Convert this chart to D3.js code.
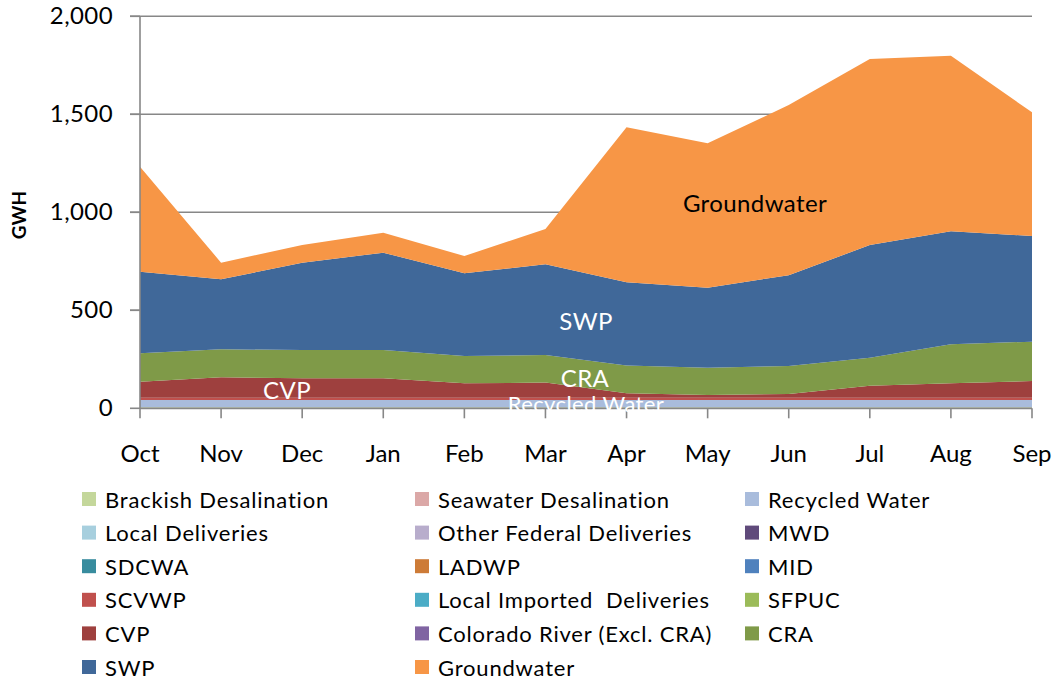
<html>
    <head>
        <script src="https://d3js.org/d3.v7.min.js" charset="utf-8"></script>
        <style>
            body { margin: 0; background: #ffffff; }
            text { font-family: Lato, "Open Sans", sans-serif; }
        </style>
    </head>

    <body>
    </body>

    <script>
        // Months along the x axis
        var months = ["Oct", "Nov", "Dec", "Jan", "Feb", "Mar", "Apr", "May", "Jun", "Jul", "Aug", "Sep"];

        // Tick values for the y axis (GWH)
        var yTicks = [0, 500, 1000, 1500, 2000];

        // Series names, bottom of the stack first (same order as the legend)
        var seriesNames = [
            "Brackish Desalination", "Seawater Desalination", "Recycled Water",
            "Local Deliveries", "Other Federal Deliveries", "MWD",
            "SDCWA", "LADWP", "MID",
            "SCVWP", "Local Imported  Deliveries", "SFPUC",
            "CVP", "Colorado River (Excl. CRA)", "CRA",
            "SWP", "Groundwater"
        ];

        var seriesColors = [
            "#c4d79b", "#dba8a7", "#a9bcdc",
            "#a7cfde", "#b8adcc", "#604a7b",
            "#388c9e", "#cd7b37", "#4f81bd",
            "#c0504d", "#4bacc6", "#9bbb59",
            "#9e403e", "#8064a2", "#7f9a48",
            "#406899", "#f79646"
        ];

        // Values, one per month (GWH)
        var brackish      = [5, 5, 5, 5, 5, 5, 5, 5, 5, 5, 5, 5];
        var seawater      = [0, 0, 0, 0, 0, 0, 0, 0, 0, 0, 0, 0];
        var recycled      = [37, 37, 37, 37, 37, 37, 37, 37, 37, 37, 37, 37];
        var localDel      = [0, 0, 0, 0, 0, 0, 0, 0, 0, 0, 0, 0];
        var otherFederal  = [0, 0, 0, 0, 0, 0, 0, 0, 0, 0, 0, 0];
        var mwd           = [0, 0, 0, 0, 0, 0, 0, 0, 0, 0, 0, 0];
        var sdcwa         = [0, 0, 0, 0, 0, 0, 0, 0, 0, 0, 0, 0];
        var ladwp         = [0, 0, 0, 0, 0, 0, 0, 0, 0, 0, 0, 0];
        var mid           = [0, 0, 0, 0, 0, 0, 0, 0, 0, 0, 0, 0];
        var scvwp         = [12, 12, 12, 12, 12, 12, 12, 12, 12, 12, 12, 12];
        var localImported = [0, 0, 0, 0, 0, 0, 0, 0, 0, 0, 0, 0];
        var sfpuc         = [0, 0, 0, 0, 0, 0, 0, 0, 0, 0, 0, 0];
        var cvp           = [82, 104, 99, 99, 74, 77, 23, 14, 19, 61, 74, 85];
        var coloradoRiver = [0, 0, 0, 0, 0, 0, 0, 0, 0, 0, 0, 0];
        var cra           = [145, 143, 144, 144, 139, 141, 142, 139, 143, 143, 199, 201];
        var swp           = [416, 357, 446, 497, 422, 463, 424, 408, 463, 575, 576, 539];
        var groundwater   = [536, 85, 90, 102, 88, 180, 791, 737, 868, 949, 896, 631];

        var seriesValues = [
            brackish, seawater, recycled,
            localDel, otherFederal, mwd,
            sdcwa, ladwp, mid,
            scvwp, localImported, sfpuc,
            cvp, coloradoRiver, cra,
            swp, groundwater
        ];

        // Build one row per month for d3.stack
        var rows = months.map(function(m, i) {
            var row = { month: m };
            seriesNames.forEach(function(name, s) { row[name] = seriesValues[s][i]; });
            return row;
        });

        var width = 1056;
        var height = 681;
        var plotLeft = 140, plotRight = 1032, plotTop = 16.3, plotBottom = 408.3;

        var svg = d3.select("body").append("svg")
            .attr("width", width)
            .attr("height", height);

        var x = d3.scalePoint()
            .domain(months)
            .range([plotLeft, plotRight]);

        var y = d3.scaleLinear()
            .domain([0, 2000])
            .range([plotBottom, plotTop]);

        var axisColor = "#878787";

        // Horizontal gridlines behind the areas
        svg.append("g")
            .selectAll("line")
            .data(yTicks.filter(function(d) { return d > 0; }))
            .enter().append("line")
            .attr("x1", plotLeft - 10)
            .attr("x2", plotRight)
            .attr("y1", function(d) { return y(d); })
            .attr("y2", function(d) { return y(d); })
            .attr("stroke", axisColor)
            .attr("stroke-width", 1.6);

        // Stacked areas
        var stack = d3.stack().keys(seriesNames);
        var layers = stack(rows);

        var area = d3.area()
            .x(function(d) { return x(d.data.month); })
            .y0(function(d) { return y(d[0]); })
            .y1(function(d) { return y(d[1]); });

        svg.append("g")
            .selectAll("path")
            .data(layers)
            .enter().append("path")
            .attr("d", area)
            .attr("fill", function(d, i) { return seriesColors[i]; });

        // Y axis line and ticks
        svg.append("line")
            .attr("x1", plotLeft).attr("x2", plotLeft)
            .attr("y1", plotTop).attr("y2", plotBottom)
            .attr("stroke", axisColor)
            .attr("stroke-width", 1.6);

        svg.append("g")
            .selectAll("line")
            .data(yTicks)
            .enter().append("line")
            .attr("x1", plotLeft - 10)
            .attr("x2", plotLeft)
            .attr("y1", function(d) { return y(d); })
            .attr("y2", function(d) { return y(d); })
            .attr("stroke", axisColor)
            .attr("stroke-width", 1.6);

        svg.append("g")
            .selectAll("text")
            .data(yTicks)
            .enter().append("text")
            .attr("x", 113)
            .attr("y", function(d) { return y(d) + 2; })
            .attr("text-anchor", "end")
            .attr("dominant-baseline", "middle")
            .attr("font-size", 24)
            .attr("letter-spacing", 0.4)
            .attr("fill", "#000")
            .text(function(d) { return d3.format(",")(d); });

        // X axis line and ticks
        svg.append("line")
            .attr("x1", plotLeft).attr("x2", plotRight)
            .attr("y1", plotBottom).attr("y2", plotBottom)
            .attr("stroke", axisColor)
            .attr("stroke-width", 1.8);

        svg.append("g")
            .selectAll("line")
            .data(months)
            .enter().append("line")
            .attr("x1", function(d) { return x(d); })
            .attr("x2", function(d) { return x(d); })
            .attr("y1", plotBottom)
            .attr("y2", plotBottom + 10)
            .attr("stroke", axisColor)
            .attr("stroke-width", 1.6);

        svg.append("g")
            .selectAll("text")
            .data(months)
            .enter().append("text")
            .attr("x", function(d) { return x(d); })
            .attr("y", 462)
            .attr("text-anchor", "middle")
            .attr("font-size", 24)
            .attr("fill", "#000")
            .text(function(d) { return d; });

        // Y axis title
        svg.append("text")
            .attr("transform", "translate(26,215) rotate(-90)")
            .attr("text-anchor", "middle")
            .attr("font-size", 19)
            .attr("font-weight", "bold")
            .attr("fill", "#000")
            .text("GWH");

        // Labels inside the areas
        var areaLabels = [
            { text: "Groundwater", x: 755, y: 202, color: "#000", size: 24 },
            { text: "SWP", x: 586, y: 320, color: "#fff", size: 24 },
            { text: "CRA", x: 585, y: 377, color: "#fff", size: 24 },
            { text: "CVP", x: 287, y: 389, color: "#fff", size: 24 },
            { text: "Recycled Water", x: 586, y: 403, color: "#fff", size: 22 }
        ];

        svg.append("g")
            .selectAll("text")
            .data(areaLabels)
            .enter().append("text")
            .attr("x", function(d) { return d.x; })
            .attr("y", function(d) { return d.y; })
            .attr("text-anchor", "middle")
            .attr("dominant-baseline", "central")
            .attr("font-size", function(d) { return d.size; })
            .attr("letter-spacing", 0.4)
            .attr("fill", function(d) { return d.color; })
            .text(function(d) { return d.text; });

        // Legend, three columns
        var legendCols = [82, 415, 745];
        var legendTop = 492;
        var legendRowGap = 33.6;

        var legend = svg.append("g")
            .selectAll("g")
            .data(seriesNames)
            .enter().append("g")
            .attr("transform", function(d, i) {
                return "translate(" + legendCols[i % 3] + "," + (legendTop + Math.floor(i / 3) * legendRowGap) + ")";
            });

        legend.append("rect")
            .attr("width", 14)
            .attr("height", 14)
            .attr("fill", function(d, i) { return seriesColors[i]; });

        legend.append("text")
            .attr("x", 23)
            .attr("y", 7)
            .attr("dominant-baseline", "central")
            .attr("font-size", 22)
            .attr("letter-spacing", 0.8)
            .attr("fill", "#000")
            .style("white-space", "pre")
            .text(function(d) { return d; });
    </script>
</html>
